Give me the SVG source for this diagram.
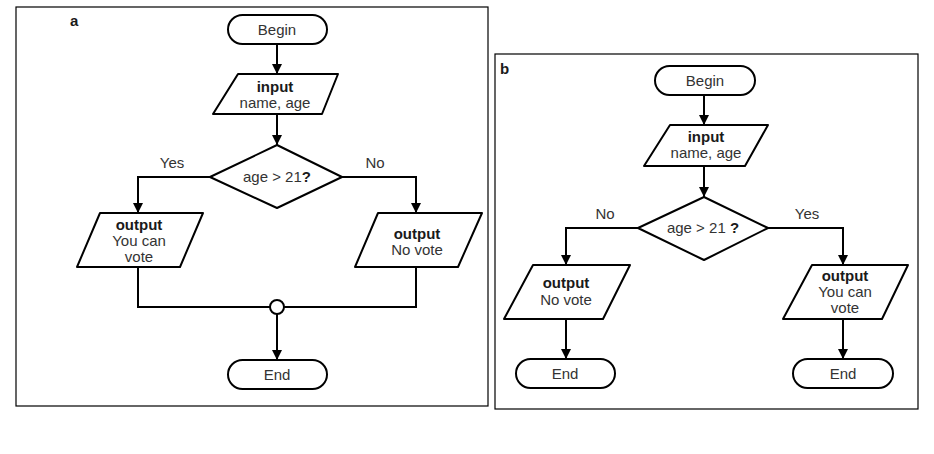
<svg xmlns="http://www.w3.org/2000/svg" width="934" height="454" viewBox="0 0 934 454">
<defs>
<marker id="ah" viewBox="0 0 10 10" refX="10" refY="5" markerWidth="10" markerHeight="10" markerUnits="userSpaceOnUse" orient="auto">
<path d="M0,0 L10,5 L0,10 z" fill="#000"/>
</marker>
</defs>
<style>
.frame{fill:#fff;stroke:#000;stroke-width:1.2}
.shape{fill:#fff;stroke:#000;stroke-width:2;stroke-linejoin:round}
.conn{fill:none;stroke:#000;stroke-width:2}
.arr{marker-end:url(#ah)}
text{font-family:"Liberation Sans",Arial,sans-serif;font-size:15px;fill:#333;text-anchor:middle}
.b{font-weight:bold;fill:#1a1a1a}
.lab{font-weight:bold;fill:#1a1a1a;text-anchor:start}
</style>
<rect width="934" height="454" fill="#fff"/>

<!-- Panel a -->
<rect class="frame" x="16" y="7" width="472" height="399"/>
<text class="lab" x="70" y="26">a</text>

<g id="conn-a">
<line class="conn arr" x1="277" y1="44" x2="277" y2="74"/>
<line class="conn arr" x1="277" y1="114" x2="277" y2="145"/>
<polyline class="conn arr" points="210,177 138,177 138,213"/>
<polyline class="conn arr" points="342,177 416,177 416,213"/>
<polyline class="conn" points="138,267 138,307 270,307"/>
<polyline class="conn" points="416,267 416,307 284,307"/>
<line class="conn arr" x1="277" y1="314" x2="277" y2="360"/>
<text x="172" y="168">Yes</text>
<text x="375" y="168">No</text>
</g>

<g id="a-begin">
<rect class="shape" x="228" y="15" width="99" height="29" rx="14.5"/>
<text x="277" y="35">Begin</text>
</g>
<g id="a-input">
<polygon class="shape" points="238,74 338,74 322,114 213,114"/>
<text class="b" x="275" y="92">input</text>
<text x="275" y="108">name, age</text>
</g>
<g id="a-decision">
<polygon class="shape" points="277,145 342,177 277,208 210,177"/>
<text x="277" y="182">age &gt; 21<tspan class="b">?</tspan></text>
</g>
<g id="a-out-yes">
<polygon class="shape" points="100,213 203,213 180,267 77,267"/>
<text class="b" x="139" y="230">output</text>
<text x="139" y="246">You can</text>
<text x="139" y="262">vote</text>
</g>
<g id="a-out-no">
<polygon class="shape" points="378,213 482,213 458,267 355,267"/>
<text class="b" x="417" y="239">output</text>
<text x="417" y="255">No vote</text>
</g>
<g id="a-merge">
<circle class="shape" cx="277" cy="307" r="7"/>
</g>
<g id="a-end">
<rect class="shape" x="228" y="360" width="99" height="29" rx="14.5"/>
<text x="277" y="380">End</text>
</g>

<!-- Panel b -->
<rect class="frame" x="495" y="54" width="423" height="355"/>
<text class="lab" x="500" y="74">b</text>

<g id="conn-b">
<line class="conn arr" x1="704" y1="95" x2="704" y2="125"/>
<line class="conn arr" x1="704" y1="166" x2="704" y2="197"/>
<polyline class="conn arr" points="638,228 566,228 566,265"/>
<polyline class="conn arr" points="768,228 843,228 843,265"/>
<line class="conn arr" x1="566" y1="319" x2="566" y2="359"/>
<line class="conn arr" x1="843" y1="319" x2="843" y2="359"/>
<text x="605" y="219">No</text>
<text x="807" y="219">Yes</text>
</g>

<g id="b-begin">
<rect class="shape" x="655" y="66" width="100" height="29" rx="14.5"/>
<text x="705" y="86">Begin</text>
</g>
<g id="b-input">
<polygon class="shape" points="670,125 768,125 745,166 644,166"/>
<text class="b" x="706" y="142">input</text>
<text x="706" y="158">name, age</text>
</g>
<g id="b-decision">
<polygon class="shape" points="704,197 768,228 704,260 638,228"/>
<text x="703" y="233">age &gt; 21 <tspan class="b">?</tspan></text>
</g>
<g id="b-out-no">
<polygon class="shape" points="533,265 630,265 603,319 504,319"/>
<text class="b" x="566" y="288">output</text>
<text x="566" y="305">No vote</text>
</g>
<g id="b-out-yes">
<polygon class="shape" points="812,265 908,265 882,319 783,319"/>
<text class="b" x="845" y="281">output</text>
<text x="845" y="297">You can</text>
<text x="845" y="313">vote</text>
</g>
<g id="b-end-no">
<rect class="shape" x="516" y="359" width="99" height="29" rx="14.5"/>
<text x="565" y="379">End</text>
</g>
<g id="b-end-yes">
<rect class="shape" x="793" y="359" width="100" height="29" rx="14.5"/>
<text x="843" y="379">End</text>
</g>
</svg>
